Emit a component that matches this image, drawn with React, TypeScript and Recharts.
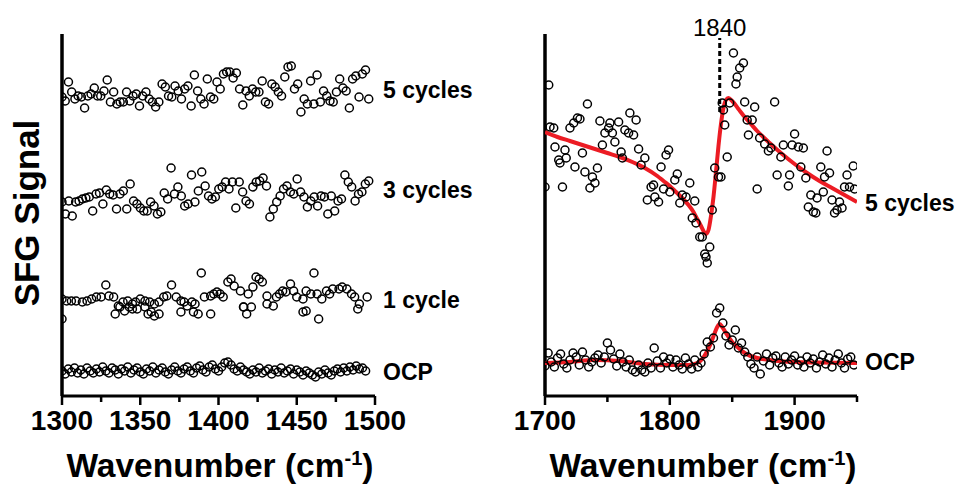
import React from 'react'
import { ComposedChart, Scatter, Line, XAxis, YAxis, ReferenceDot, ReferenceLine } from 'recharts'

const FONT = "Arial, 'Liberation Sans', Helvetica, sans-serif"

// left panel (1300-1500 cm-1), evenly sampled series
const cycles5Left = [
  29.9, 29.5, 31.4, 30.4, 29.7, 30.0, 29.9, 28.8, 30.0, 30.2,
  30.8, 30.0, 30.0, 30.5, 31.6, 29.4, 30.4, 29.2, 29.4, 29.4,
  30.4, 29.5, 30.0, 30.2, 29.0, 30.0, 30.4, 29.7, 29.4, 28.9,
  29.4, 31.2, 30.9, 30.0, 29.9, 31.0, 30.5, 29.7, 30.7, 31.0,
  29.0, 32.1, 30.5, 29.7, 29.2, 31.7, 29.9, 29.7, 31.4, 30.7,
  32.2, 32.4, 32.4, 31.8, 32.3, 30.7, 29.1, 30.5, 30.0, 30.7,
  30.4, 30.4, 31.5, 29.4, 29.2, 31.2, 30.9, 30.4, 30.0, 31.9,
  32.9, 33.0, 30.7, 31.2, 28.4, 29.7, 29.2, 31.5, 29.2, 32.1,
  29.4, 30.5, 30.0, 29.5, 29.4, 30.4, 31.7, 30.8, 30.5, 28.8,
  31.7, 32.0, 29.9, 32.2, 32.6, 29.7,
]

const cycles3Left = [
  19.4, 18.2, 19.5, 18.0, 19.4, 19.5, 19.7, 19.8, 19.9, 18.5,
  20.2, 20.3, 19.2, 20.6, 20.2, 20.1, 18.7, 20.2, 20.5, 18.7,
  21.2, 19.5, 19.2, 18.8, 18.5, 18.5, 19.4, 19.0, 18.2, 18.4,
  20.3, 19.7, 22.8, 20.2, 20.9, 20.0, 19.0, 19.2, 22.1, 19.4,
  20.5, 22.4, 21.0, 20.0, 19.7, 19.9, 20.7, 20.9, 21.4, 20.7,
  21.4, 18.8, 21.4, 20.4, 19.5, 19.2, 20.9, 21.4, 21.5, 21.8,
  21.0, 17.9, 18.7, 19.4, 20.0, 20.7, 21.0, 20.4, 20.2, 21.7,
  20.4, 19.9, 18.9, 19.5, 19.9, 19.0, 20.0, 19.9, 18.2, 20.0,
  18.5, 19.5, 19.7, 22.1, 21.4, 20.9, 19.5, 20.2, 20.4, 21.2,
  21.5,
]

// [wavenumber, signal]
const cycle1Left: [number, number][] = [
  [1300, 9.7], [1300, 7.7], [1303, 9.5], [1306, 9.5], [1309, 9.5], [1313, 9.4], [1316, 9.5], [1319, 9.7],
  [1322, 9.9], [1325, 9.9], [1328, 11.1], [1330, 10.0], [1333, 9.9], [1336, 9.0], [1339, 9.4], [1342, 9.5],
  [1345, 9.2], [1347, 9.4], [1350, 9.7], [1353, 9.5], [1356, 9.4], [1359, 9.2], [1362, 9.4], [1365, 9.9],
  [1367, 10.0], [1370, 11.1], [1373, 9.9], [1376, 9.5], [1378, 9.4], [1380, 9.0], [1383, 9.4], [1385, 9.2],
  [1389, 12.3], [1391, 9.9], [1395, 10.0], [1397, 10.2], [1399, 10.4], [1401, 10.2], [1403, 9.9], [1406, 11.4],
  [1408, 11.7], [1410, 11.0], [1414, 10.5], [1416, 8.9], [1419, 10.2], [1422, 10.9], [1424, 11.9], [1426, 11.7],
  [1428, 11.4], [1431, 10.0], [1435, 9.0], [1437, 9.9], [1439, 10.2], [1441, 10.5], [1443, 10.4], [1446, 11.2],
  [1448, 10.5], [1450, 9.9], [1454, 9.7], [1456, 10.5], [1459, 10.2], [1461, 12.3], [1463, 10.2], [1466, 9.7],
  [1469, 10.5], [1471, 10.2], [1473, 10.7], [1477, 10.7], [1479, 10.9], [1482, 10.7], [1485, 10.2], [1487, 9.9],
  [1490, 9.2], [1495, 9.9],
  [1334, 8.2], [1337, 8.9], [1340, 8.5], [1343, 8.9], [1345, 8.7], [1348, 8.7], [1353, 8.9], [1355, 8.2],
  [1357, 8.4], [1359, 8.0], [1362, 8.2], [1376, 8.4], [1384, 8.4], [1387, 8.2], [1395, 8.2], [1416, 8.9],
  [1418, 8.2], [1421, 8.9], [1431, 9.2], [1454, 8.4], [1456, 8.5], [1464, 7.7], [1489, 8.7],
]

const ocpLeft = [
  2.5, 2.2, 2.7, 2.4, 2.8, 2.3, 2.6, 2.2, 2.8, 2.5,
  2.3, 2.7, 2.4, 2.9, 2.5, 2.3, 2.8, 2.6, 2.2, 2.7,
  2.5, 2.9, 2.3, 2.6, 2.8, 2.4, 2.2, 2.7, 2.5, 2.9,
  2.3, 2.6, 2.8, 2.4, 2.2, 2.6, 2.9, 2.5, 2.3, 2.7,
  2.9, 2.5, 2.3, 2.8, 3.0, 2.6, 2.4, 2.9, 3.1, 2.7,
  2.5, 2.9, 3.3, 3.4, 3.1, 2.7, 2.5, 2.9, 2.6, 2.4,
  2.2, 2.6, 2.4, 2.8, 2.3, 2.5, 2.7, 2.2, 2.6, 2.4,
  2.8, 2.3, 2.5, 2.7, 2.2, 2.6, 2.4, 2.1, 2.5, 2.3,
  2.1, 1.9, 2.4, 2.2, 2.6, 2.3, 2.1, 2.5, 2.7, 2.4,
  2.8, 2.5, 2.9, 2.6, 3.0, 2.7, 2.8, 2.5,
]

// right panel (1700-1950 cm-1)
const cycles5Right: [number, number][] = [
  [1700, 20.9], [1703, 31.1], [1704, 26.9], [1707, 26.8], [1708, 24.9], [1711, 23.6], [1712, 23.3], [1714, 20.9],
  [1716, 24.6], [1717, 23.8], [1720, 26.8], [1723, 27.3], [1724, 22.9], [1726, 27.8], [1728, 27.7], [1730, 24.3],
  [1732, 22.4], [1734, 29.2], [1736, 20.8], [1738, 21.9], [1740, 21.3], [1742, 22.8], [1744, 27.5], [1746, 25.1],
  [1748, 26.3], [1751, 26.8], [1752, 27.3], [1754, 26.3], [1756, 25.4], [1759, 27.4], [1761, 24.4], [1762, 23.8],
  [1764, 26.6], [1767, 26.3], [1768, 28.3], [1771, 26.1], [1773, 27.6], [1775, 24.7], [1777, 23.1], [1780, 23.8],
  [1782, 19.6], [1785, 20.9], [1787, 21.1], [1788, 19.9], [1791, 19.4], [1793, 22.9], [1795, 20.7], [1797, 24.1],
  [1799, 24.6], [1800, 20.4], [1804, 21.6], [1806, 22.2], [1808, 19.3], [1810, 20.1], [1813, 19.9], [1816, 21.3],
  [1818, 17.8], [1820, 19.5], [1821, 17.3], [1824, 15.9], [1826, 15.9], [1828, 14.2], [1829, 13.9], [1830, 13.3],
  [1832, 14.9], [1834, 18.6], [1836, 22.8], [1839, 21.9], [1841, 21.9], [1842, 29.3], [1843, 28.6], [1844, 27.1],
  [1846, 23.9], [1848, 29.3], [1851, 34.3], [1853, 31.2], [1854, 31.9], [1856, 32.8], [1859, 33.3], [1860, 29.4],
  [1862, 27.6], [1863, 26.1], [1866, 27.6], [1868, 28.9], [1870, 20.7], [1872, 25.8], [1876, 25.2], [1879, 24.5],
  [1881, 24.8], [1884, 29.4], [1886, 22.1], [1889, 23.9], [1891, 25.1], [1895, 21.0], [1896, 22.1], [1898, 25.1],
  [1900, 26.2], [1903, 24.9], [1905, 22.9], [1907, 24.8], [1909, 21.8], [1911, 18.9], [1913, 20.1], [1915, 18.4],
  [1917, 18.3], [1918, 19.8], [1921, 22.9], [1923, 20.4], [1924, 21.9], [1926, 24.5], [1928, 22.3], [1930, 19.6],
  [1932, 18.3], [1934, 18.6], [1936, 19.4], [1938, 18.8], [1940, 20.9], [1942, 22.1], [1944, 20.9], [1947, 23.0],
  [1948, 20.7],
]

const cycles5RightFit: [number, number][] = [
  [1700, 26.4], [1710, 25.9], [1720, 25.5], [1730, 25.1], [1740, 24.7], [1750, 24.3], [1760, 23.9], [1770, 23.4],
  [1780, 22.8], [1790, 22.0], [1795, 21.5], [1800, 21.0], [1805, 20.4], [1810, 19.8], [1815, 19.1], [1819, 18.4],
  [1822, 17.7], [1825, 17.0], [1827, 16.5], [1829, 16.2], [1831, 16.6], [1833, 18.0], [1835, 19.9], [1837, 22.4],
  [1839, 25.0], [1841, 27.2], [1843, 28.8], [1845, 29.6], [1847, 29.8], [1850, 29.5], [1855, 28.7], [1860, 27.9],
  [1865, 27.2], [1870, 26.5], [1880, 25.3], [1890, 24.2], [1900, 23.2], [1910, 22.3], [1920, 21.5], [1930, 20.8],
  [1940, 20.1], [1950, 19.4],
]

const ocpRight = [
  3.0, 4.3, 3.4, 2.9, 3.8, 4.2, 3.2, 2.8, 3.6, 4.3,
  3.9, 3.1, 4.4, 3.6, 2.9, 3.4, 3.8, 4.1, 3.3, 3.9,
  5.3, 4.6, 3.7, 3.0, 4.2, 3.4, 2.9, 3.6, 2.6, 2.4,
  3.1, 2.6, 2.4, 3.3, 2.8, 4.8, 3.5, 2.8, 3.9, 3.3,
  3.7, 2.9, 3.6, 3.1, 2.7, 3.8, 3.2, 2.7, 3.6, 2.9,
  3.3, 4.2, 5.4, 4.9, 5.8, 8.3, 8.8, 7.3, 6.0, 5.1,
  5.6, 6.6, 4.8, 5.3, 4.4, 3.9, 3.2, 2.8, 3.9, 2.2,
  3.5, 4.2, 3.1, 3.8, 4.0, 3.3, 2.9, 3.9, 3.2, 3.6,
  4.0, 3.1, 3.5, 2.9, 3.9, 3.3, 3.7, 2.8, 3.4, 4.1,
  3.2, 3.8, 2.9, 3.6, 4.2, 3.3, 2.8, 3.7, 3.9, 3.1,
]

const ocpRightFit: [number, number][] = [
  [1700, 3.3], [1720, 3.4], [1740, 3.6], [1760, 3.5], [1780, 3.2], [1800, 3.1], [1815, 3.1], [1822, 3.3],
  [1826, 3.7], [1830, 4.5], [1833, 5.3], [1836, 6.3], [1838, 6.9], [1840, 7.2], [1842, 6.9], [1845, 6.3],
  [1850, 5.4], [1855, 4.8], [1860, 4.3], [1870, 3.8], [1880, 3.6], [1900, 3.4], [1920, 3.35], [1950, 3.3],
]

const leftTicks = [1300, 1325, 1350, 1375, 1400, 1425, 1450, 1475, 1500]
const leftTickLabels = [1300, 1350, 1400, 1450, 1500]
const rightTicks = [1700, 1750, 1800, 1850, 1900, 1950]
const rightTickLabels = [1700, 1800, 1900]

const leftNames = ['5 cycles', '3 cycles', '1 cycle', 'OCP']
const leftLevels = [30.6, 20.6, 9.6, 2.4]
const rightNames = ['5 cycles', 'OCP']
const rightLevels = [19.3, 3.4]

const peakPosition = 1840
const yMax = 36.2

const evenly = (start: number, end: number, vals: number[]) =>
  vals.map((y, i) => ({ x: start + (i * (end - start)) / (vals.length - 1), y }))
const pairs = (arr: [number, number][]) => arr.map(([x, y]) => ({ x, y }))

const Ring = (props: any) => (
  <circle cx={props.cx} cy={props.cy} r={4} fill="none" stroke="#000" strokeWidth={1.5} />
)

const makeTick = (labels: number[]) => (props: any) => {
  const { x, y, payload } = props
  const major = labels.includes(payload.value)
  return (
    <g>
      <line x1={x} x2={x} y1={y} y2={y + (major ? 9 : 6)} stroke="#000" strokeWidth={2.5} />
      {major && (
        <text x={x} y={y + 34} textAnchor="middle" fontSize={28} fontWeight="bold" fontFamily={FONT} fill="#000">
          {payload.value}
        </text>
      )}
    </g>
  )
}

const seriesLabel = (value: string) => ({
  value,
  position: 'right' as const,
  offset: 8,
  fill: '#000',
  fontSize: 23,
  fontWeight: 'bold',
  fontFamily: FONT,
})

const axisLine = { stroke: '#000', strokeWidth: 3 }

function LeftPanel() {
  return (
    <ComposedChart width={480} height={487} margin={{ top: 34, right: 105, bottom: 51, left: 62 }}>
      <XAxis type="number" dataKey="x" domain={[1300, 1500]} ticks={leftTicks} interval={0}
        tickSize={0} tickMargin={0} tickLine={false} tick={makeTick(leftTickLabels)} axisLine={axisLine} height={40} allowDataOverflow />
      <YAxis type="number" dataKey="y" domain={[0, yMax]} width={0} hide allowDataOverflow />
      <ReferenceLine x={1300} stroke="#000" strokeWidth={3.5} />
      <Scatter data={evenly(1300, 1496, cycles5Left)} shape={Ring} isAnimationActive={false} />
      <Scatter data={evenly(1300, 1496, cycles3Left)} shape={Ring} isAnimationActive={false} />
      <Scatter data={pairs(cycle1Left)} shape={Ring} isAnimationActive={false} />
      <Scatter data={evenly(1300, 1494, ocpLeft)} shape={Ring} isAnimationActive={false} />
      {leftNames.map((n, i) => (
        <ReferenceDot key={n} x={1500} y={leftLevels[i]} r={0} stroke="none" label={seriesLabel(n)} />
      ))}
    </ComposedChart>
  )
}

function RightPanel() {
  return (
    <ComposedChart width={486} height={487} margin={{ top: 34, right: 109, bottom: 51, left: 65 }}>
      <XAxis type="number" dataKey="x" domain={[1700, 1950]} ticks={rightTicks} interval={0}
        tickSize={0} tickMargin={0} tickLine={false} tick={makeTick(rightTickLabels)} axisLine={axisLine} height={40} allowDataOverflow />
      <YAxis type="number" dataKey="y" domain={[0, yMax]} width={0} hide allowDataOverflow />
      <ReferenceLine x={1700} stroke="#000" strokeWidth={3.5} />
      <Scatter data={pairs(cycles5Right)} shape={Ring} isAnimationActive={false} />
      <Scatter data={evenly(1700, 1947.5, ocpRight)} shape={Ring} isAnimationActive={false} />
      <Line data={pairs(cycles5RightFit)} dataKey="y" type="monotone" stroke="#ec1c24" strokeWidth={4} dot={false} isAnimationActive={false} />
      <Line data={pairs(ocpRightFit)} dataKey="y" type="monotone" stroke="#ec1c24" strokeWidth={4} dot={false} isAnimationActive={false} />
      <ReferenceLine segment={[{ x: peakPosition, y: 28.4 }, { x: peakPosition, y: 35.8 }]} stroke="#000" strokeWidth={3} strokeDasharray="5 3" />
      <ReferenceDot x={peakPosition} y={35.8} r={0} stroke="none"
        label={{ value: String(peakPosition), position: 'top', offset: 2, fill: '#000', fontSize: 24, fontFamily: FONT }} />
      {rightNames.map((n, i) => (
        <ReferenceDot key={n} x={1950} y={rightLevels[i]} r={0} stroke="none" label={seriesLabel(n)} />
      ))}
    </ComposedChart>
  )
}

const titleStyle: React.CSSProperties = {
  position: 'absolute',
  width: 400,
  top: 446,
  height: 40,
  lineHeight: '40px',
  textAlign: 'center',
  fontSize: 33.5,
  fontWeight: 'bold',
  fontFamily: FONT,
  color: '#000',
}

export default function App() {
  return (
    <div style={{ position: 'absolute', left: 0, top: 0, width: 966, height: 487, background: '#fff', overflow: 'hidden' }}>
      <div style={{ position: 'absolute', left: 0, top: 0 }}>
        <LeftPanel />
      </div>
      <div style={{ position: 'absolute', left: 480, top: 0 }}>
        <RightPanel />
      </div>
      <div style={{
        position: 'absolute', left: -123, top: 193, width: 300, height: 40, lineHeight: '40px',
        textAlign: 'center', transform: 'rotate(-90deg)', fontSize: 35, fontWeight: 'bold', fontFamily: FONT, color: '#000',
      }}>
        SFG Signal
      </div>
      <div style={{ ...titleStyle, left: 20 }}>
        Wavenumber (cm<sup style={{ fontSize: '0.6em', lineHeight: 0 }}>-1</sup>)
      </div>
      <div style={{ ...titleStyle, left: 503 }}>
        Wavenumber (cm<sup style={{ fontSize: '0.6em', lineHeight: 0 }}>-1</sup>)
      </div>
    </div>
  )
}
